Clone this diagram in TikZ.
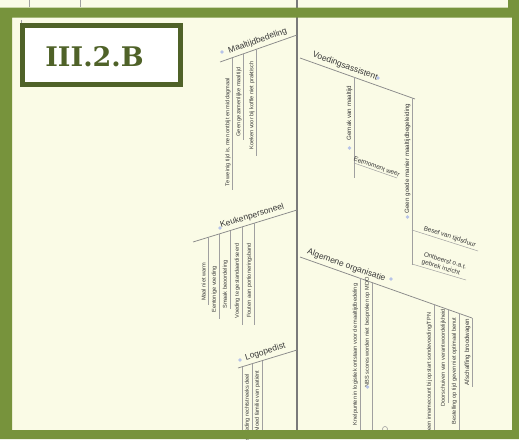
\documentclass[tikz,border=0pt]{standalone}
\usepackage{fontspec}
\setmainfont{Liberation Sans}
\newfontfamily\slabfont{DejaVu Serif}
\definecolor{paper}{HTML}{FAFBE6}
\definecolor{band}{HTML}{77933C}
\definecolor{darkolive}{HTML}{4F6228}
\definecolor{spinegray}{HTML}{7A7A7A}
\definecolor{bonegray}{HTML}{8A8A8A}
\definecolor{twiggray}{HTML}{A0A0A0}
\definecolor{ink}{HTML}{383838}
\definecolor{dotblue}{HTML}{B7C3E8}
\begin{document}
\begin{tikzpicture}[x=1pt, y=-1pt,
  spine/.style={draw=spinegray, line width=2.6pt},
  bone/.style={draw=bonegray, line width=0.75pt},
  twig/.style={draw=twiggray, line width=0.5pt},
  topic/.style={font=\fontsize{8.5}{10}\selectfont, text=ink, inner sep=3pt},
  cause/.style={font=\fontsize{5.6}{6.5}\selectfont, text=ink, inner sep=0.6pt, rotate=90},
  bigcause/.style={cause, font=\fontsize{6.2}{7}\selectfont},
  subcause/.style={font=\fontsize{6.4}{7.4}\selectfont, text=ink, inner sep=1.5pt},
  marker/.style={circle, fill=dotblue, minimum size=3.6pt, inner sep=0pt},
  framebox/.style={draw=darkolive, line width=5pt, fill=white, minimum width=158pt, minimum height=59pt, inner sep=0pt},
  labeltext/.style={font=\slabfont\bfseries\fontsize{27}{27}\selectfont, text=darkolive, inner sep=0pt}]
\useasboundingbox (0,0) rectangle (519,439);
\clip (0,0) rectangle (519,439);
\fill[paper] (0,0) rectangle (519,439);

% top strip fragments and left fragment
\coordinate (f1a) at (29,0); \coordinate (f1b) at (29,7);
\coordinate (f2a) at (80,0); \coordinate (f2b) at (80,7);
\coordinate (f3a) at (21,20); \coordinate (f3b) at (21,54);
\draw[twig] (f1a) -- (f1b); \draw[twig] (f2a) -- (f2b); \draw[twig] (f3a) -- (f3b);

% spine
\coordinate (sTop) at (297,-2); \coordinate (sBot) at (297,434);
\draw[spine] (sTop) -- (sBot);

% ---------- Maaltijdbedeling ----------
\coordinate (mA) at (220,62); \coordinate (mB) at (297,35);
\draw[bone] (mA) -- (mB) node[topic, pos=0.52, sloped, above] (mT) {Maaltijdbedeling};
\node[marker] (mDot) at (222,52) {};
\coordinate (m1t) at (232,57.8); \coordinate (m1b) at (232,190);
\coordinate (m2t) at (243,53.9); \coordinate (m2b) at (243,140);
\coordinate (m3t) at (256,49.4); \coordinate (m3b) at (256,156);
\draw[twig] (m1t) -- (m1b); \draw[twig] (m2t) -- (m2b); \draw[twig] (m3t) -- (m3b);
\node[cause] (m1x) at (228,132.5) {Te weinig tijd is, men ontbijt en middagmaal};
\node[cause] (m2x) at (239,102) {Geen gezamenlijke maaltijd};
\node[cause] (m3x) at (252,105.5) {Koeken voor bij koffie niet praktisch};

% ---------- Voedingsassistent ----------
\coordinate (vA) at (300,58); \coordinate (vB) at (415,99);
\draw[bone] (vA) -- (vB) node[topic, pos=0.37, sloped, above] (vT) {Voedingsassistent};
\node[marker] (vDot) at (378,78) {};
\coordinate (v1t) at (354,77.3); \coordinate (v1b) at (354,178);
\draw[twig] (v1t) -- (v1b);
\node[bigcause] (v1x) at (349.5,113) {Gemak van maaltijd};
\node[marker] (v1dot) at (349.5,148) {};
\coordinate (eA) at (354,163); \coordinate (eB) at (397,178);
\draw[twig] (eA) -- (eB) node[subcause, pos=0.5, sloped, above] (eT) {Eetmoment weer};
\coordinate (v2t) at (412,97.9); \coordinate (v2b) at (412,265);
\draw[twig] (v2t) -- (v2b);
\node[bigcause] (v2x) at (407.5,158.5) {Geen goede manier maaltijdbegeleiding};
\node[marker] (v2dot) at (407.5,217) {};
\coordinate (bA) at (412,230); \coordinate (bB) at (478,251);
\draw[twig] (bA) -- (bB) node[subcause, pos=0.55, sloped, above] (bT) {Besef van tijdsduur};
\coordinate (oA) at (412,264); \coordinate (oB) at (466,280);
\draw[twig] (oA) -- (oB) node[subcause, pos=0.55, sloped, above, align=left] (oT) {Ontbeerst o.a.t.\\gebrek inzicht};

% ---------- Keukenpersoneel ----------
\coordinate (kA) at (193,242); \coordinate (kB) at (297,210);
\draw[bone] (kA) -- (kB) node[topic, pos=0.59, sloped, above] (kT) {Keukenpersoneel};
\node[marker] (kDot) at (220,228) {};
\coordinate (k1t) at (208,237.4); \coordinate (k1b) at (208,305);
\coordinate (k2t) at (219,234.0); \coordinate (k2b) at (219,319);
\coordinate (k3t) at (230,230.6); \coordinate (k3b) at (230,309);
\coordinate (k4t) at (242,226.9); \coordinate (k4b) at (242,325);
\coordinate (k5t) at (254,223.2); \coordinate (k5b) at (254,325);
\draw[twig] (k1t) -- (k1b); \draw[twig] (k2t) -- (k2b); \draw[twig] (k3t) -- (k3b);
\draw[twig] (k4t) -- (k4b); \draw[twig] (k5t) -- (k5b);
\node[cause] (k1x) at (203.5,282) {Maal niet warm};
\node[cause] (k2x) at (214.5,289.5) {Eentonige voeding};
\node[cause] (k3x) at (225.5,284.5) {Smaak beoordeling};
\node[cause] (k4x) at (237.5,281) {Voeding te gestandaardiseerd};
\node[cause] (k5x) at (249.5,280.5) {Fouten aan portioneringsband};

% ---------- Logopedist ----------
\coordinate (lA) at (238,368); \coordinate (lB) at (297,350);
\draw[bone] (lA) -- (lB) node[topic, pos=0.5, sloped, above] (lT) {Logopedist};
\node[marker] (lDot) at (240,360) {};
\coordinate (l0t) at (242,366.8); \coordinate (l0b) at (242,434);
\coordinate (l1t) at (252,363.7); \coordinate (l1b) at (252,434);
\coordinate (l2t) at (262,360.7); \coordinate (l2b) at (262,434);
\draw[twig] (l0t) -- (l0b); \draw[twig] (l1t) -- (l1b); \draw[twig] (l2t) -- (l2b);
\node[cause, anchor=east] (l1x) at (247.5,373) {Aangepaste voeding rechtstreeks deel};
\node[cause, anchor=east] (l2x) at (257.5,370) {Invloed familie van patiënt};

% ---------- Algemene organisatie ----------
\coordinate (aA) at (300,257); \coordinate (aB) at (472,318);
\draw[bone] (aA) -- (aB) node[topic, pos=0.255, sloped, above] (aT) {Algemene organisatie};
\node[marker] (aDot) at (391,279) {};
\coordinate (c1t) at (360,278.3); \coordinate (c1b) at (360,434);
\coordinate (c2t) at (372,282.5); \coordinate (c2b) at (372,434);
\coordinate (c3t) at (434,304.4); \coordinate (c3b) at (434,434);
\coordinate (c4t) at (448,309.5); \coordinate (c4b) at (448,403);
\coordinate (c5t) at (459,313.4); \coordinate (c5b) at (459,434);
\coordinate (c6t) at (472,318); \coordinate (c6b) at (472,387);
\draw[twig] (c1t) -- (c1b); \draw[twig] (c2t) -- (c2b); \draw[twig] (c3t) -- (c3b);
\draw[twig] (c4t) -- (c4b); \draw[twig] (c5t) -- (c5b); \draw[twig] (c6t) -- (c6b);
\node[cause, anchor=east] (c1x) at (355.5,283) {Knelpunten in logistiek ontstaan voor de maaltijdbedeling};
\node[cause] (c2x) at (367.5,332.5) {NBS scores worden niet besproken op MDO};
\node[marker] (c2dot) at (367.5,387) {};
\node[cause, anchor=east] (c3x) at (429.5,312) {Geen innamecount bij opstart sondevoeding/TPN};
\node[cause] (c4x) at (443.5,358) {Doorschuiven van verantwoordelijkheid};
\node[cause, anchor=east] (c5x) at (454.5,317) {Bestelling op tijd geven niet optimaal benut};
\node[bigcause] (c6x) at (467.5,352) {Afschaffing broodwagen};
\node[circle, draw=twiggray, line width=0.6pt, minimum size=5pt, inner sep=0pt] (ring) at (385,429) {};

% ---------- green frame ----------
\fill[band, even odd rule] (0,7.5) rectangle (519,439) (12,17.5) rectangle (512,430);
\fill[band] (508,0) rectangle (519,7.5);

% ---------- label ----------
\node[framebox] (lblbox) at (101.5,55) {};
\node[labeltext] (lbltext) at (94.5,57) {III.2.B};
\end{tikzpicture}
\end{document}
